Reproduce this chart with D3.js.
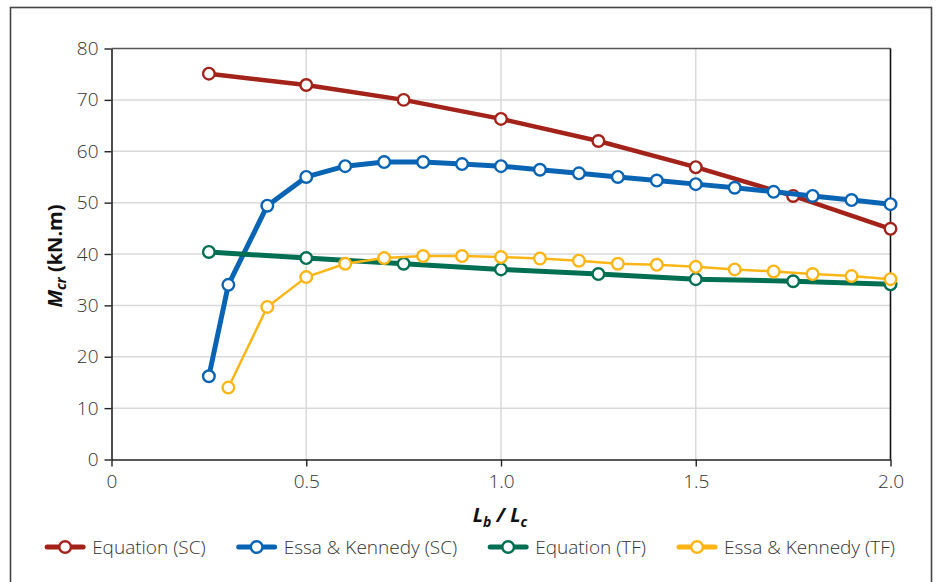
<!DOCTYPE html>
<html>
<head>
<meta charset="utf-8">
<script src="https://cdn.jsdelivr.net/npm/d3@7"></script>
<style>
  html, body { margin: 0; padding: 0; background: #fff; }
  svg { display: block; }
  text { font-family: "Open Sans", "Noto Sans", sans-serif; }
</style>
</head>
<body>
<svg id="chart" width="936" height="582"></svg>
<script>
// Critical moment M_cr (kN.m) against the length ratio L_b / L_c
const xEq = [0.25, 0.5, 0.75, 1.0, 1.25, 1.5, 1.75, 2.0];
const xEssaSC = [0.25, 0.3, 0.4, 0.5, 0.6, 0.7, 0.8, 0.9, 1.0, 1.1, 1.2, 1.3, 1.4, 1.5, 1.6, 1.7, 1.8, 1.9, 2.0];
const xEssaTF = [0.3, 0.4, 0.5, 0.6, 0.7, 0.8, 0.9, 1.0, 1.1, 1.2, 1.3, 1.4, 1.5, 1.6, 1.7, 1.8, 1.9, 2.0];

const equationSC = [75.1, 72.9, 70.0, 66.3, 62.0, 56.9, 51.3, 44.9];
const essaSC = [16.2, 34.0, 49.4, 55.0, 57.1, 57.9, 57.9, 57.5, 57.1, 56.4, 55.7, 55.0, 54.3, 53.6, 52.9, 52.1, 51.3, 50.5, 49.7];
const equationTF = [40.4, 39.2, 38.1, 37.0, 36.1, 35.1, 34.7, 34.1];
const essaTF = [14.0, 29.7, 35.5, 38.1, 39.2, 39.6, 39.6, 39.4, 39.1, 38.7, 38.1, 37.9, 37.5, 37.0, 36.6, 36.1, 35.7, 35.1];

const seriesNames = ["Equation (SC)", "Essa & Kennedy (SC)", "Equation (TF)", "Essa & Kennedy (TF)"];
const xTicks = [0, 0.5, 1.0, 1.5, 2.0];
const xTickLabels = ["0", "0.5", "1.0", "1.5", "2.0"];
const yTicks = [0, 10, 20, 30, 40, 50, 60, 70, 80];

const series = [
  { name: seriesNames[0], xs: xEq, ys: equationSC, color: "#a32219", width: 4.5 },
  { name: seriesNames[1], xs: xEssaSC, ys: essaSC, color: "#0a64b4", width: 5 },
  { name: seriesNames[2], xs: xEq, ys: equationTF, color: "#006f52", width: 5 },
  { name: seriesNames[3], xs: xEssaTF, ys: essaTF, color: "#fbb615", width: 2.5 }
];

const svg = d3.select("#chart");
const margin = { left: 111.5, right: 890.5, top: 48.5, bottom: 459.5 };

const x = d3.scaleLinear().domain([0, 2]).range([margin.left, margin.right]);
const y = d3.scaleLinear().domain([0, 80]).range([margin.bottom, margin.top]);

// outer frame
svg.append("rect")
  .attr("x", 10.5).attr("y", 7.5)
  .attr("width", 921).attr("height", 600)
  .attr("fill", "none").attr("stroke", "#444").attr("stroke-width", 1.6);

// gridlines
const grid = svg.append("g").attr("stroke", "#d9d9d9").attr("stroke-width", 1.5);
grid.selectAll("line.h").data(yTicks.filter(d => d > 0 && d < 80)).join("line")
  .attr("x1", margin.left).attr("x2", margin.right)
  .attr("y1", d => y(d)).attr("y2", d => y(d));
grid.selectAll("line.v").data(xTicks.filter(d => d > 0 && d < 2)).join("line")
  .attr("y1", margin.top).attr("y2", margin.bottom)
  .attr("x1", d => x(d)).attr("x2", d => x(d));

// plot border: top and right
svg.append("line").attr("x1", margin.left).attr("x2", margin.right)
  .attr("y1", margin.top).attr("y2", margin.top)
  .attr("stroke", "#555").attr("stroke-width", 1.6);
svg.append("line").attr("x1", margin.right).attr("x2", margin.right)
  .attr("y1", margin.top).attr("y2", margin.bottom)
  .attr("stroke", "#111").attr("stroke-width", 1.6);

// axes
const yAxis = d3.axisLeft(y).tickValues(yTicks).tickSize(7).tickPadding(6).tickSizeOuter(0);
const xAxis = d3.axisBottom(x).tickValues(xTicks).tickFormat((d, i) => xTickLabels[i])
  .tickSize(7).tickPadding(8).tickSizeOuter(0);

const gy = svg.append("g").attr("transform", `translate(${margin.left},0)`).call(yAxis);
const gx = svg.append("g").attr("transform", `translate(0,${margin.bottom})`).call(xAxis);
[gx, gy].forEach(g => {
  g.select(".domain").attr("stroke", "#222").attr("stroke-width", 1.6);
  g.selectAll(".tick line").attr("stroke", "#222").attr("stroke-width", 1.4);
  g.selectAll(".tick text")
    .attr("fill", "#333")
    .style("font-family", '"Open Sans", sans-serif')
    .style("font-weight", 300)
    .style("font-size", "19px");
});

// axis titles
const yTitle = svg.append("text")
  .attr("transform", `translate(62,256) rotate(-90)`)
  .attr("text-anchor", "middle")
  .attr("fill", "#111")
  .style("font-size", "20px").style("font-weight", 700);
yTitle.append("tspan").style("font-style", "italic").text("M");
yTitle.append("tspan").style("font-style", "italic").style("font-size", "14px")
  .attr("dy", 4).text("cr");
yTitle.append("tspan").attr("dy", -4).text(" (kN.m)");

const xTitle = svg.append("text")
  .attr("x", 500).attr("y", 522)
  .attr("text-anchor", "middle")
  .attr("fill", "#111")
  .style("font-size", "20px").style("font-weight", 700).style("font-style", "italic");
xTitle.append("tspan").text("L");
xTitle.append("tspan").style("font-size", "14px").attr("dy", 5).text("b");
xTitle.append("tspan").attr("dy", -5).text(" / L");
xTitle.append("tspan").style("font-size", "14px").attr("dy", 5).text("c");

// series lines and markers
const line = d3.line().x(d => x(d[0])).y(d => y(d[1]));
series.forEach(s => {
  const pts = s.xs.map((v, i) => [v, s.ys[i]]);
  const g = svg.append("g");
  g.append("path").datum(pts)
    .attr("d", line)
    .attr("fill", "none")
    .attr("stroke", s.color)
    .attr("stroke-width", s.width)
    .attr("stroke-linejoin", "round");
  g.selectAll("circle").data(pts).join("circle")
    .attr("cx", d => x(d[0])).attr("cy", d => y(d[1]))
    .attr("r", 5.8)
    .attr("fill", "#fff")
    .attr("stroke", s.color)
    .attr("stroke-width", 2.4);
});

// legend
const legend = svg.append("g");
const legendY = 547;
const items = series.map(s => {
  const g = legend.append("g");
  g.append("line").attr("x1", 0).attr("x2", 36).attr("y1", legendY).attr("y2", legendY)
    .attr("stroke", s.color).attr("stroke-width", 5).attr("stroke-linecap", "round");
  g.append("circle").attr("cx", 18).attr("cy", legendY).attr("r", 5.8)
    .attr("fill", "#fff").attr("stroke", s.color).attr("stroke-width", 2.4);
  const t = g.append("text").attr("x", 45).attr("y", legendY).attr("dy", "0.35em")
    .attr("fill", "#333")
    .style("font-weight", 300).style("font-size", "19px")
    .text(s.name);
  return { g, w: 45 + t.node().getComputedTextLength() };
});
const gap = 33;
const total = d3.sum(items, d => d.w) + gap * (items.length - 1);
let cursor = 471 - total / 2;
items.forEach(it => {
  it.g.attr("transform", `translate(${cursor},0)`);
  cursor += it.w + gap;
});
</script>
</body>
</html>
